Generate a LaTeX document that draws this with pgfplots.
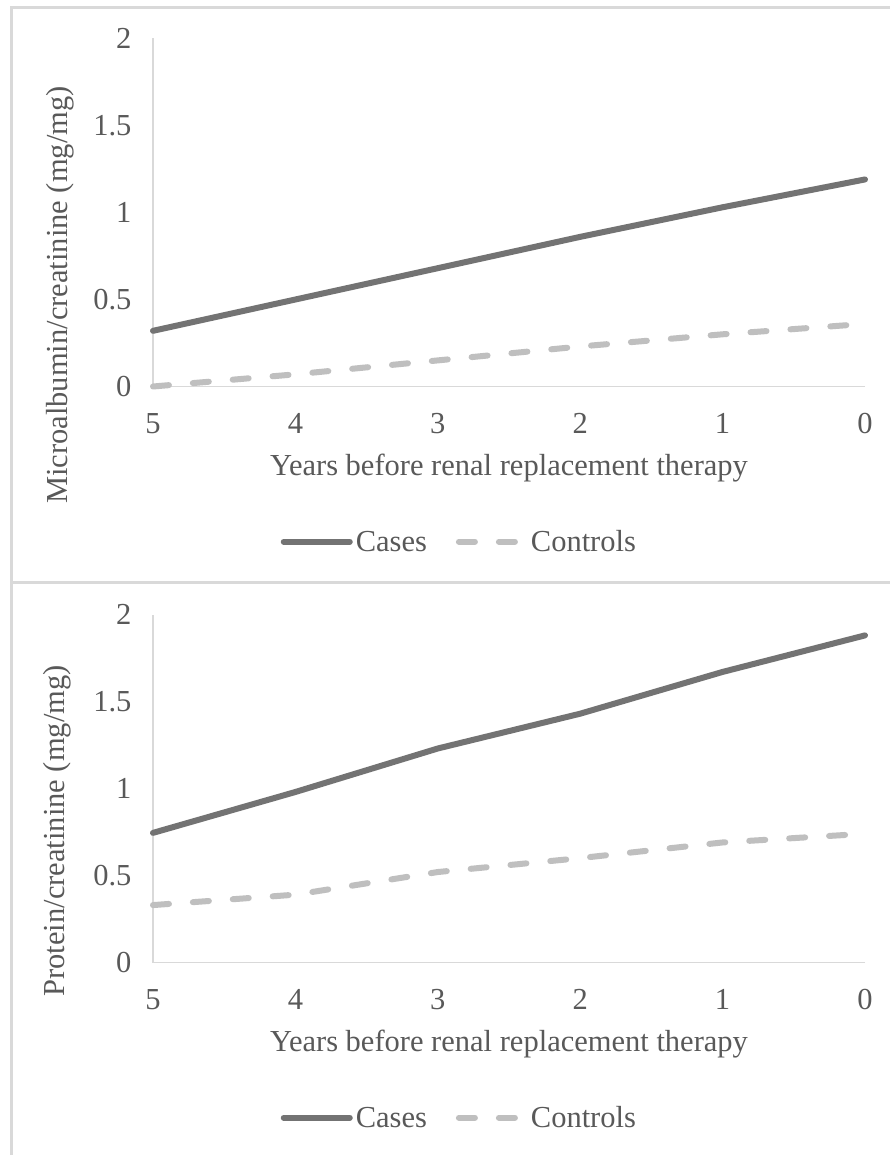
\documentclass[border=0pt]{standalone}
\usepackage{fontspec}
\setmainfont{Liberation Serif}
\usepackage{pgfplots}
\pgfplotsset{compat=1.18}
\definecolor{textgray}{HTML}{595959}
\definecolor{casegray}{HTML}{737373}
\definecolor{ctrlgray}{HTML}{BFBFBF}
\definecolor{axisgray}{HTML}{D9D9D9}
\newcommand\ff{\fontsize{30.5}{36}\selectfont}
\pgfplotsset{
  panel/.style={
    scale only axis, width=712pt, height=348pt,
    anchor=south west,
    xmin=0, xmax=5, x dir=reverse, xtick={0,1,2,3,4,5},
    ymin=0, ymax=2, ytick={0,0.5,1,1.5,2},
    axis x line*=bottom, axis y line*=left,
    axis line style={axisgray, line width=1.5pt, -},
    major tick length=0pt,
    tick label style={font=\ff, text=textgray},
    /pgf/number format/assume math mode=true,
    xticklabel style={anchor=north, yshift=-23pt},
    yticklabel style={anchor=east, xshift=-18pt},
    label style={font=\ff, text=textgray},
    xlabel={Years before renal replacement therapy},
    xlabel style={at={(axis description cs:0.5,-0.233)}, anchor=center},
    clip=false,
    legend columns=2,
    legend style={draw=none, fill=none, font=\ff, text=textgray,
      at={(axis description cs:0.431,-0.446)}, anchor=center,
      nodes={inner sep=3pt},
      /tikz/every even column/.append style={column sep=26pt}},
    legend image code/.code={\draw[##1] (0pt,0pt) -- (66pt,0pt);},
  },
  cases/.style={casegray, line width=6pt, line cap=round, line join=round},
  ctrls/.style={ctrlgray, line width=6pt, line cap=round, dash pattern=on 16pt off 24pt},
}
\begin{document}
\begin{tikzpicture}
\path[use as bounding box] (0pt,0pt) rectangle (890pt,-1155pt);
\fill[white] (0pt,0pt) rectangle (890pt,-1155pt);
\draw[axisgray, line width=3pt] (895pt,-8pt) -- (11pt,-8pt) -- (11pt,-1160pt);
\draw[axisgray, line width=3pt] (11pt,-582.5pt) -- (895pt,-582.5pt);
\begin{axis}[panel, at={(153pt,-386.5pt)},
  ylabel={Microalbumin/creatinine (mg/mg)},
  ylabel style={at={(axis description cs:-0.1306,0.2626)}, anchor=center}]
\addplot[cases] coordinates {(5,0.32) (4,0.50) (3,0.68) (2,0.86) (1,1.03) (0,1.19)};
\addlegendentry{Cases}
\addplot[ctrls] coordinates {(5,0.0) (4,0.07) (3,0.15) (2,0.23) (1,0.30) (0,0.36)};
\addlegendentry{Controls}
\end{axis}
\begin{axis}[panel, at={(153pt,-962.5pt)},
  ylabel={Protein/creatinine (mg/mg)},
  ylabel style={at={(axis description cs:-0.135,0.378)}, anchor=center}]
\addplot[cases] coordinates {(5,0.745) (4,0.98) (3,1.23) (2,1.43) (1,1.67) (0,1.88)};
\addlegendentry{Cases}
\addplot[ctrls] coordinates {(5,0.33) (4,0.39) (3,0.52) (2,0.60) (1,0.69) (0,0.74)};
\addlegendentry{Controls}
\end{axis}
\end{tikzpicture}
\end{document}
